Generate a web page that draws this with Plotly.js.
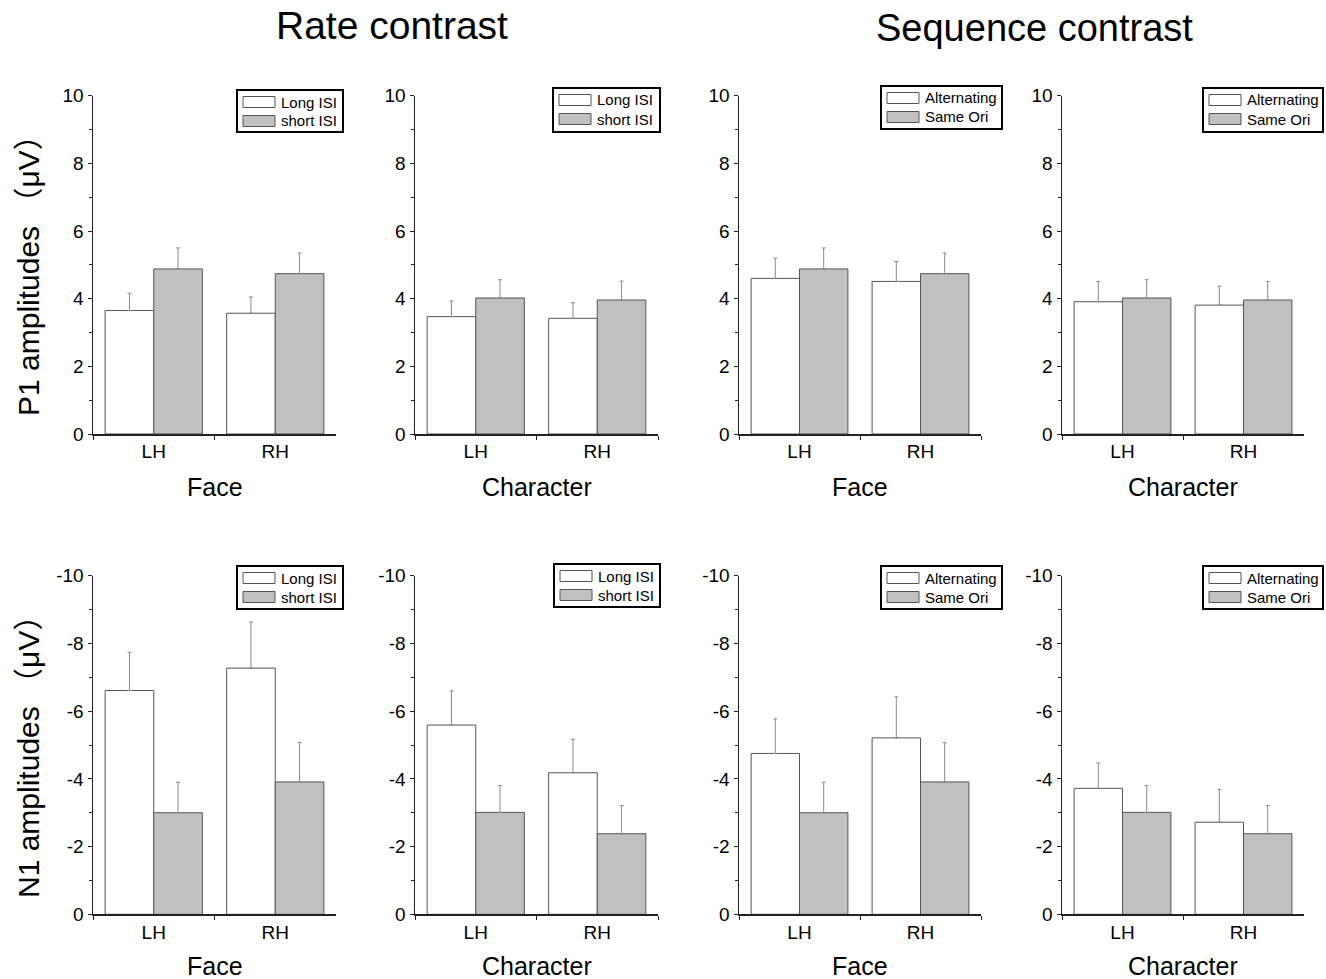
<!DOCTYPE html>
<html>
<head>
<meta charset="utf-8">
<script src="https://cdn.plot.ly/plotly-3.0.1.min.js"></script>
<style>html,body{margin:0;padding:0;background:#fff;}#chart{width:1326px;height:979px;}</style>
</head>
<body>
<div id="chart"></div>
<script>
// ---------- DATA ----------
const hemispheres = ['LH', 'RH'];
const rateLegend = ['Long ISI', 'short ISI'];
const seqLegend = ['Alternating', 'Same Ori'];
const stimulusLabels = ['Face', 'Character', 'Face', 'Character'];
const sectionTitles = ['Rate contrast', 'Sequence contrast'];
const rowTitles = ['P1 amplitudes （μV）', 'N1 amplitudes （μV）'];
const posTickVals = [0, 2, 4, 6, 8, 10];
const posTickText = ['0', '2', '4', '6', '8', '10'];
const negTickVals = [0, -2, -4, -6, -8, -10];
const negTickText = ['0', '-2', '-4', '-6', '-8', '-10'];

// P1 (positive), rate contrast
const p1RateFaceLong = [3.65, 3.57];
const p1RateFaceLongErr = [0.51, 0.48];
const p1RateFaceShort = [4.88, 4.74];
const p1RateFaceShortErr = [0.62, 0.61];
const p1RateCharLong = [3.47, 3.42];
const p1RateCharLongErr = [0.46, 0.46];
const p1RateCharShort = [4.02, 3.96];
const p1RateCharShortErr = [0.54, 0.56];
// P1, sequence contrast
const p1SeqFaceAlt = [4.60, 4.51];
const p1SeqFaceAltErr = [0.60, 0.59];
const p1SeqFaceSame = [4.88, 4.74];
const p1SeqFaceSameErr = [0.62, 0.61];
const p1SeqCharAlt = [3.91, 3.81];
const p1SeqCharAltErr = [0.60, 0.56];
const p1SeqCharSame = [4.02, 3.96];
const p1SeqCharSameErr = [0.54, 0.55];
// N1 (negative), rate contrast
const n1RateFaceLong = [-6.61, -7.27];
const n1RateFaceLongErr = [1.13, 1.36];
const n1RateFaceShort = [-3.00, -3.91];
const n1RateFaceShortErr = [0.90, 1.16];
const n1RateCharLong = [-5.59, -4.18];
const n1RateCharLongErr = [1.01, 0.99];
const n1RateCharShort = [-3.01, -2.38];
const n1RateCharShortErr = [0.79, 0.83];
// N1, sequence contrast
const n1SeqFaceAlt = [-4.75, -5.21];
const n1SeqFaceAltErr = [1.02, 1.21];
const n1SeqFaceSame = [-3.00, -3.91];
const n1SeqFaceSameErr = [0.90, 1.16];
const n1SeqCharAlt = [-3.72, -2.72];
const n1SeqCharAltErr = [0.75, 0.97];
const n1SeqCharSame = [-3.01, -2.38];
const n1SeqCharSameErr = [0.79, 0.83];

// ---------- LAYOUT GEOMETRY (pixels) ----------
const W = 1326, H = 979;
const FONT = 'Liberation Sans, Arial, Helvetica, sans-serif';
const colX = [[93, 336], [415, 658], [739, 981], [1062, 1304]];
const rowY = [[95.7, 434], [575.7, 914.3]]; // top, bottom pixel
const legendBoxes = [
  [237, 90, 343, 132], [553, 88, 660, 132], [881, 86, 1002, 129], [1203, 88, 1323, 132],
  [237, 566, 343, 609], [554, 564, 660, 607], [881, 566, 1002, 609], [1203, 566, 1323, 609]
];
const px = x => x / W;
const py = y => 1 - y / H;

const panels = [
  {a: p1RateFaceLong, ae: p1RateFaceLongErr, b: p1RateFaceShort, be: p1RateFaceShortErr, names: rateLegend},
  {a: p1RateCharLong, ae: p1RateCharLongErr, b: p1RateCharShort, be: p1RateCharShortErr, names: rateLegend},
  {a: p1SeqFaceAlt, ae: p1SeqFaceAltErr, b: p1SeqFaceSame, be: p1SeqFaceSameErr, names: seqLegend},
  {a: p1SeqCharAlt, ae: p1SeqCharAltErr, b: p1SeqCharSame, be: p1SeqCharSameErr, names: seqLegend},
  {a: n1RateFaceLong, ae: n1RateFaceLongErr, b: n1RateFaceShort, be: n1RateFaceShortErr, names: rateLegend},
  {a: n1RateCharLong, ae: n1RateCharLongErr, b: n1RateCharShort, be: n1RateCharShortErr, names: rateLegend},
  {a: n1SeqFaceAlt, ae: n1SeqFaceAltErr, b: n1SeqFaceSame, be: n1SeqFaceSameErr, names: seqLegend},
  {a: n1SeqCharAlt, ae: n1SeqCharAltErr, b: n1SeqCharSame, be: n1SeqCharSameErr, names: seqLegend}
];

const fills = ['#ffffff', '#c0c0c0'];
const barLine = '#555555';
const axisColor = '#222222';

const data = [];
const layout = {
  width: W, height: H,
  margin: {l: 0, r: 0, t: 0, b: 0},
  paper_bgcolor: '#ffffff', plot_bgcolor: 'rgba(0,0,0,0)',
  showlegend: false,
  barmode: 'group', bargap: 0.2, bargroupgap: 0,
  font: {family: FONT, color: '#000'},
  shapes: [], annotations: []
};

panels.forEach((p, i) => {
  const row = i < 4 ? 0 : 1;
  const col = i % 4;
  const neg = row === 1;
  const xa = i === 0 ? 'x' : 'x' + (i + 1);
  const ya = i === 0 ? 'y' : 'y' + (i + 1);
  const zeros = hemispheres.map(() => 0);
  [[p.a, p.ae], [p.b, p.be]].forEach((s, k) => {
    data.push({
      type: 'bar', x: hemispheres, y: s[0], name: p.names[k],
      xaxis: xa, yaxis: ya, offsetgroup: String(k),
      marker: {color: fills[k], line: {color: barLine, width: 1}},
      error_y: {
        type: 'data', symmetric: false,
        array: neg ? zeros : s[1],
        arrayminus: neg ? s[1] : zeros,
        color: '#8a8a8a', thickness: 1, width: 2
      },
      hoverinfo: 'x+y'
    });
  });
  const xKey = i === 0 ? 'xaxis' : 'xaxis' + (i + 1);
  const yKey = i === 0 ? 'yaxis' : 'yaxis' + (i + 1);
  layout[xKey] = {
    domain: [px(colX[col][0]), px(colX[col][1])],
    anchor: ya, type: 'category', range: [-0.5, 1.5],
    showline: true, linecolor: axisColor, linewidth: 1.5,
    ticks: 'outside', tickson: 'boundaries', ticklen: 4, tickcolor: axisColor, tickwidth: 1,
    showgrid: false, zeroline: false,
    tickfont: {family: FONT, size: 19, color: '#000'}
  };
  layout[yKey] = {
    domain: [py(rowY[row][1]), py(rowY[row][0])],
    anchor: xa,
    range: neg ? [0, -10] : [0, 10],
    tickmode: 'array',
    tickvals: neg ? negTickVals : posTickVals,
    ticktext: neg ? negTickText : posTickText,
    showline: true, linecolor: axisColor, linewidth: 1.5,
    ticks: 'outside', ticklen: 4, tickcolor: axisColor, tickwidth: 1,
    minor: {dtick: 1, tick0: 0, ticks: 'outside', ticklen: 2.5, tickcolor: axisColor, tickwidth: 1},
    showgrid: false, zeroline: false,
    tickfont: {family: FONT, size: 19, color: '#000'}
  };

  // x-axis category label (Face / Character)
  layout.annotations.push({
    xref: 'paper', yref: 'paper',
    x: px((colX[col][0] + colX[col][1]) / 2), y: py(row === 0 ? 487 : 966),
    xanchor: 'center', yanchor: 'middle', showarrow: false,
    text: stimulusLabels[col], font: {family: FONT, size: 25, color: '#000'}
  });

  // custom legend
  const bx = legendBoxes[i];
  layout.shapes.push({
    type: 'rect', xref: 'paper', yref: 'paper',
    x0: px(bx[0]), x1: px(bx[2]), y0: py(bx[1]), y1: py(bx[3]),
    line: {color: '#000', width: 2}, fillcolor: '#fff'
  });
  [0, 1].forEach(k => {
    const top = bx[1] + (k === 0 ? 6.5 : 25.5);
    layout.shapes.push({
      type: 'rect', xref: 'paper', yref: 'paper',
      x0: px(bx[0] + 6), x1: px(bx[0] + 38), y0: py(top), y1: py(top + 11),
      line: {color: barLine, width: 1}, fillcolor: fills[k]
    });
    layout.annotations.push({
      xref: 'paper', yref: 'paper',
      x: px(bx[0] + 42), y: py(top + 5.5),
      xanchor: 'left', yanchor: 'middle', showarrow: false,
      text: p.names[k], font: {family: FONT, size: 15, color: '#000'}
    });
  });
});

// row (y-axis) titles
rowTitles.forEach((t, r) => {
  layout.annotations.push({
    xref: 'paper', yref: 'paper',
    x: px(28), y: py(r === 0 ? 268 : 750),
    xanchor: 'center', yanchor: 'middle', showarrow: false, textangle: -90,
    text: t, font: {family: FONT + ', Noto Sans CJK SC', size: 30, color: '#000'}
  });
});

// section titles
layout.annotations.push({
  xref: 'paper', yref: 'paper', x: px(392), y: py(26),
  xanchor: 'center', yanchor: 'middle', showarrow: false,
  text: sectionTitles[0], font: {family: FONT, size: 39, color: '#000'}
});
layout.annotations.push({
  xref: 'paper', yref: 'paper', x: px(1034), y: py(28),
  xanchor: 'center', yanchor: 'middle', showarrow: false,
  text: sectionTitles[1], font: {family: FONT, size: 38, color: '#000'}
});

Plotly.newPlot('chart', data, layout, {staticPlot: true, displayModeBar: false});
</script>
</body>
</html>
